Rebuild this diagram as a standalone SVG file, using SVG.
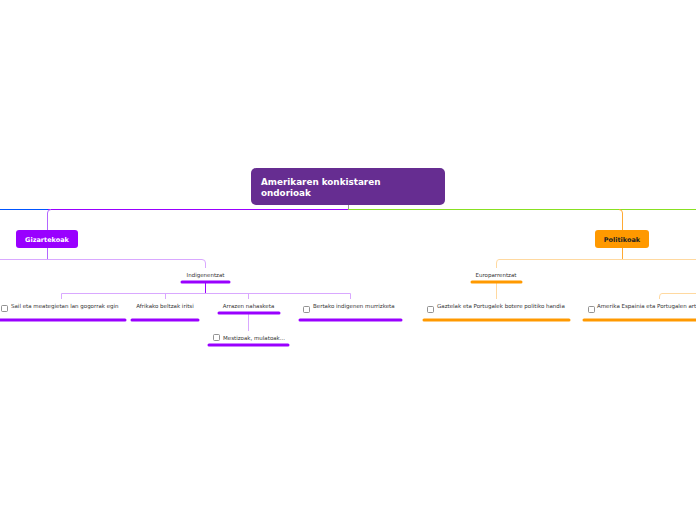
<svg xmlns="http://www.w3.org/2000/svg" width="696" height="520" viewBox="0 0 696 520">
<style>
.t{font-family:"DejaVu Sans",Verdana,sans-serif;font-size:5.5px;fill:#333}
.c{text-anchor:middle}
.ulp{stroke:#9900ff;stroke-width:3;stroke-linecap:round}
.ulo{stroke:#ff9900;stroke-width:3;stroke-linecap:round}
.lp{fill:none;stroke:#d9a8ff;stroke-width:1}
.lo{fill:none;stroke:#ffd9a0;stroke-width:1}
.cb{fill:#fff;stroke:#777;stroke-width:0.8}
</style>
<rect width="696" height="520" fill="#fff"/>
<g id="connectors">
  <path d="M348.5 205 V209" stroke="#999" stroke-width="1" fill="none"/>
  <path d="M0 209.5 H48" stroke="#0055ff" stroke-width="1" fill="none"/>
  <path d="M48 209.5 H348" stroke="#9900ff" stroke-width="1" fill="none"/>
  <path d="M348 209.5 H696" stroke="#88e022" stroke-width="1" fill="none"/>
  <path d="M51 209.5 Q47.5 209.5 47.5 213 V230" stroke="#b366ff" stroke-width="1" fill="none"/>
  <path d="M619 209.5 Q622.5 209.5 622.5 213 V230" stroke="#ffaa33" stroke-width="1" fill="none"/>
  <path d="M47.5 248 V259" stroke="#b366ff" stroke-width="1" fill="none"/>
  <path class="lp" d="M0 259.5 H202 Q205.5 259.5 205.5 263 V268"/>
  <path d="M205.5 282 V293" stroke="#9900ff" stroke-width="1" fill="none"/>
  <path class="lp" d="M61.5 299 V293.5 H350.5 V299 M165.5 293.5 V299 M248.5 293.5 V299"/>
  <path class="lp" d="M248.5 313 V331"/>
  <path d="M622.5 248 V259" stroke="#ffaa33" stroke-width="1" fill="none"/>
  <path class="lo" d="M696 259.5 H499 Q496.5 259.5 496.5 263 V268"/>
  <path class="lo" d="M496.5 282 V299"/>
  <path class="lo" d="M696 293.5 H662 Q659.5 293.5 659.5 297 V299"/>
</g>
<g id="main">
  <rect x="251" y="168" width="194" height="37" rx="5" fill="#662d91"/>
  <text x="261" y="185" font-family="DejaVu Sans,Verdana,sans-serif" font-size="8.8" font-weight="bold" fill="#fff">Amerikaren konkistaren</text>
  <text x="261" y="196" font-family="DejaVu Sans,Verdana,sans-serif" font-size="8.8" font-weight="bold" fill="#fff">ondorioak</text>
</g>
<g id="gizartekoak">
  <rect x="16" y="230" width="62" height="18" rx="3" fill="#9900ff"/>
  <text x="47" y="242" text-anchor="middle" font-family="DejaVu Sans,Verdana,sans-serif" font-size="6.5" font-weight="bold" fill="#fff">Gizartekoak</text>
</g>
<g id="politikoak">
  <rect x="595" y="230" width="54" height="18" rx="3" fill="#ff9900"/>
  <text x="622" y="242" text-anchor="middle" font-family="DejaVu Sans,Verdana,sans-serif" font-size="6.5" font-weight="bold" fill="#222">Politikoak</text>
</g>
<g id="indigenentzat">
  <text class="t c" x="205.5" y="277">Indigenentzat</text>
  <line class="ulp" x1="182" y1="282" x2="229" y2="282"/>
</g>
<g id="sail">
  <rect class="cb" x="1.5" y="305.5" width="6" height="6" rx="1"/>
  <text class="t" x="11" y="308">Sail eta meategietan lan gogorrak egin</text>
  <line class="ulp" x1="0" y1="320" x2="125" y2="320"/>
</g>
<g id="afrikako">
  <text class="t c" x="165" y="308">Afrikako beltzak iritsi</text>
  <line class="ulp" x1="132" y1="320" x2="198" y2="320"/>
</g>
<g id="arrazen">
  <text class="t c" x="248.5" y="308">Arrazen nahasketa</text>
  <line class="ulp" x1="219" y1="313" x2="279" y2="313"/>
</g>
<g id="mestizoak">
  <rect class="cb" x="213.5" y="334.5" width="6" height="6" rx="1"/>
  <text class="t" x="223" y="339.5">Mestizoak, mulatoak...</text>
  <line class="ulp" x1="209" y1="345" x2="288" y2="345"/>
</g>
<g id="bertako">
  <rect class="cb" x="303.5" y="306.5" width="6" height="6" rx="1"/>
  <text class="t" x="313" y="308">Bertako indigenen murrizketa</text>
  <line class="ulp" x1="300" y1="320" x2="401" y2="320"/>
</g>
<g id="europarrentzat">
  <text class="t c" x="496" y="277">Europarrentzat</text>
  <line class="ulo" x1="472" y1="282" x2="521" y2="282"/>
</g>
<g id="gaztelak">
  <rect class="cb" x="427.5" y="306.5" width="6" height="6" rx="1"/>
  <text class="t" x="437" y="308">Gaztelak eta Portugalek botere politiko handia</text>
  <line class="ulo" x1="424" y1="320" x2="569" y2="320"/>
</g>
<g id="amerika">
  <rect class="cb" x="588.5" y="306.5" width="6" height="6" rx="1"/>
  <text class="t" x="597" y="308">Amerika Espainia eta Portugalen art</text>
  <line class="ulo" x1="584" y1="320" x2="700" y2="320"/>
</g>
</svg>
